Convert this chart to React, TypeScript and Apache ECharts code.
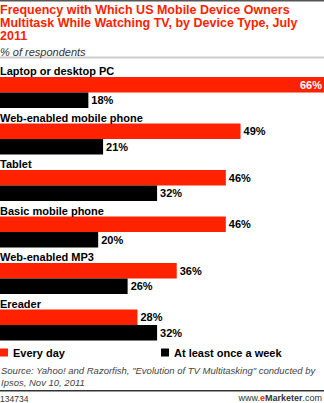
import React, { useEffect, useRef } from "react";
import * as echarts from "echarts";

const categories = [
  "Laptop or desktop PC",
  "Web-enabled mobile phone",
  "Tablet",
  "Basic mobile phone",
  "Web-enabled MP3",
  "Ereader",
];
const everyDay = [66, 49, 46, 46, 36, 28];
const weekly = [18, 21, 32, 20, 26, 32];
const seriesNames = ["Every day", "At least once a week"];

const RED = "#ff2200";
const FONT = "'Liberation Sans', Arial, sans-serif";

export default function App() {
  const ref = useRef<HTMLDivElement>(null);
  useEffect(() => {
    document.body.style.margin = "0";
    const chart = echarts.init(ref.current!, null, { renderer: "svg" });
    const valueLabel = {
      show: true,
      position: "right",
      distance: 3,
      formatter: "{c}%",
      color: "#000",
      fontWeight: "bold",
      fontSize: 11,
      fontFamily: FONT,
    };
    chart.setOption({
      animation: false,
      backgroundColor: "#fff",
      textStyle: { fontFamily: FONT },
      title: {
        left: 0,
        top: 3,
        padding: 0,
        itemGap: 4,
        text: "Frequency with Which US Mobile Device Owners\nMultitask While Watching TV, by Device Type, July\n2011",
        textStyle: { color: RED, fontSize: 12.5, fontWeight: "bold", lineHeight: 13, fontFamily: FONT },
        subtext: "% of respondents",
        subtextStyle: { color: "#333", fontSize: 11, fontStyle: "italic", fontFamily: FONT },
      },
      legend: [
        {
          data: [seriesNames[0]],
          left: 0,
          top: 347,
          padding: 0,
          icon: "rect",
          itemWidth: 8,
          itemHeight: 8,
          itemGap: 4,
          textStyle: { color: "#000", fontWeight: "bold", fontSize: 11, fontFamily: FONT },
        },
        {
          data: [seriesNames[1]],
          left: 161,
          top: 347,
          padding: 0,
          icon: "rect",
          itemWidth: 8,
          itemHeight: 8,
          itemGap: 4,
          textStyle: { color: "#000", fontWeight: "bold", fontSize: 11, fontFamily: FONT },
        },
      ],
      grid: { left: 0, right: 0, top: 61.5, height: 279, containLabel: false },
      xAxis: {
        type: "value",
        min: 0,
        max: 66,
        show: false,
      },
      yAxis: {
        type: "category",
        data: categories,
        inverse: true,
        show: false,
      },
      series: [
        {
          name: "spacer",
          type: "bar",
          data: categories.map(() => 0),
          barWidth: 15.5,
          barGap: "0%",
          barCategoryGap: "0%",
          itemStyle: { color: "transparent" },
          label: {
            show: true,
            position: "right",
            distance: 0,
            offset: [0, 2],
            formatter: (p: any) => p.name,
            color: "#000",
            fontWeight: "bold",
            fontSize: 11,
            fontFamily: FONT,
          },
          silent: true,
        },
        {
          name: seriesNames[0],
          type: "bar",
          data: everyDay.map((v, i) =>
            i === 0
              ? { value: v, label: { position: "insideRight", color: "#fff", distance: 2 } }
              : v
          ),
          barWidth: 15.5,
          barGap: "0%",
          itemStyle: { color: RED },
          label: valueLabel,
        },
        {
          name: seriesNames[1],
          type: "bar",
          data: weekly,
          barWidth: 15.5,
          barGap: "0%",
          itemStyle: { color: "#000" },
          label: valueLabel,
        },
      ],
      graphic: [
        { type: "rect", left: 0, top: 0, shape: { width: 324, height: 1.5 }, style: { fill: "#555" } },
        { type: "rect", left: 0, top: 56.5, shape: { width: 324, height: 2 }, style: { fill: "#cccccc" } },
        {
          type: "text",
          left: 1,
          top: 365,
          style: {
            text: 'Source: Yahoo! and Razorfish, "Evolution of TV Multitasking" conducted by\nIpsos, Nov 10, 2011',
            fill: "#444",
            fontSize: 9.5,
            fontStyle: "italic",
            lineHeight: 11.5,
            fontFamily: FONT,
          },
        },
        { type: "rect", left: 0, top: 390, shape: { width: 324, height: 1.5 }, style: { fill: "#333" } },
        {
          type: "text",
          left: 0,
          top: 394,
          style: { text: "134734", fill: "#333", fontSize: 8.5, fontFamily: FONT },
        },
        {
          type: "text",
          right: 2,
          top: 393,
          style: {
            text: "www.{e|e}{m|Marketer}.com",
            fill: "#333",
            fontSize: 9,
            fontFamily: FONT,
            rich: {
              e: { fill: RED, fontWeight: "bold", fontSize: 9, fontFamily: FONT },
              m: { fill: "#333", fontWeight: "bold", fontSize: 9, fontFamily: FONT },
            },
          },
        },
      ],
    });
    return () => chart.dispose();
  }, []);
  return <div ref={ref} style={{ width: 324, height: 403 }} />;
}
